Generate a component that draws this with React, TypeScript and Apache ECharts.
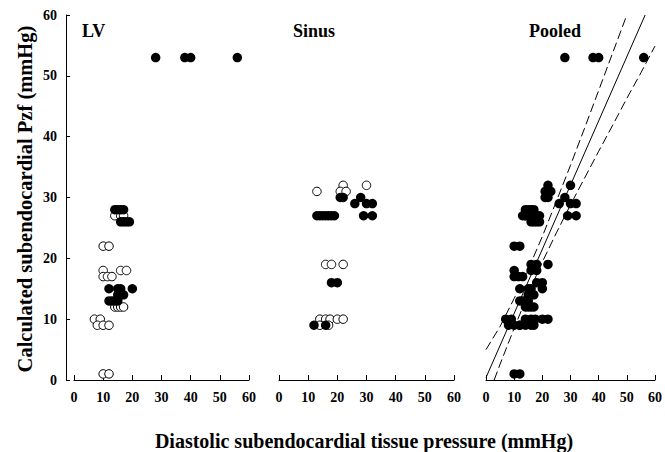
import React, { useEffect, useRef } from "react";
import * as echarts from "echarts";

// ---- Data ----
const panelTitles = ["LV", "Sinus", "Pooled"];
const xTickLabels = [0, 10, 20, 30, 40, 50, 60];
const yTickLabels = [0, 10, 20, 30, 40, 50, 60];

const lvFilled: number[][] = [
  [28, 53], [38, 53], [40, 53], [56, 53],
  [14, 28], [15, 28], [16, 28], [17, 28],
  [16, 26], [17, 26], [18, 26], [19, 26],
  [12, 15], [15, 15], [16, 15], [20, 15],
  [15, 14], [16, 14], [17, 14],
  [12, 13], [13, 13], [14, 13], [15, 13],
];
const lvOpen: number[][] = [
  [14, 27], [16, 27], [17, 27],
  [10, 22], [12, 22],
  [10, 18], [16, 18], [18, 18],
  [10, 17], [11.5, 17], [13, 17],
  [14, 12], [15, 12], [16, 12], [17, 12],
  [7, 10], [9, 10],
  [8, 9], [10, 9], [12, 9],
  [10, 1], [12, 1],
];
const sinusFilled: number[][] = [
  [21, 30], [22, 30], [28, 30],
  [26, 29], [30, 29], [32, 29],
  [13, 27], [14, 27], [15, 27], [16, 27], [17, 27], [18, 27], [19, 27], [29, 27], [32, 27],
  [18, 16], [20, 16],
  [12, 9], [16, 9],
];
const sinusOpen: number[][] = [
  [22, 32], [30, 32],
  [13, 31], [21, 31], [23, 31],
  [16, 19], [18, 19], [22, 19],
  [14, 10], [16, 10], [17.5, 10], [20, 10], [22, 10],
  [14, 9], [17, 9],
];
// points not visible in the Pooled panel
const pooledOmitted: number[][] = [[13, 31]];
// regression line and dashed confidence band
const fitLine: number[][] = [[0, 0.4], [56.5, 60]];
const upperBand: number[][] = [
  [0, 5], [5, 8.8], [10, 13.4], [15, 18.2], [20, 23.6], [25, 29.4],
  [30, 35.3], [35, 41.4], [40, 47.6], [45, 53.8], [50, 60],
];
const lowerBand: number[][] = [
  [2.9, 0], [5, 2.6], [10, 8.5], [15, 14.2], [20, 19.4], [25, 24.2],
  [30, 28.8], [35, 33.2], [40, 37.6], [45, 41.9], [50, 46.3], [55, 50.5], [60, 54.9],
];

const xTitle = "Diastolic subendocardial tissue pressure (mmHg)";
const yTitle = "Calculated subendocardial Pzf (mmHg)";

const FONT = "'Liberation Serif', 'Times New Roman', 'DejaVu Serif', serif";

export default function App() {
  const ref = useRef<HTMLDivElement>(null);

  useEffect(() => {
    if (!ref.current) return;
    const chart = echarts.init(ref.current, null, { renderer: "svg" });

    const gridLefts = [74, 279, 486];
    const grids = gridLefts.map((l) => ({ left: l, width: 175, top: 15, height: 365 }));

    const xAxes = grids.map((_, i) => ({
      type: "value",
      gridIndex: i,
      min: xTickLabels[0],
      max: xTickLabels[xTickLabels.length - 1],
      interval: 10,
      axisLine: { show: true, onZero: false, lineStyle: { color: "#000", width: 1 } },
      axisTick: { show: true, inside: true, length: 5, lineStyle: { color: "#000" } },
      axisLabel: {
        color: "#000",
        fontFamily: FONT,
        fontWeight: "bold",
        fontSize: 14,
        margin: 10,
      },
      splitLine: { show: false },
    }));

    const yAxes = grids.map((_, i) => ({
      type: "value",
      gridIndex: i,
      show: i === 0,
      offset: 8,
      min: yTickLabels[0],
      max: yTickLabels[yTickLabels.length - 1],
      interval: 10,
      axisLine: { show: true, onZero: false, lineStyle: { color: "#000", width: 1 } },
      axisTick: { show: true, inside: true, length: 4, lineStyle: { color: "#000" } },
      axisLabel: {
        color: "#000",
        fontFamily: FONT,
        fontWeight: "bold",
        fontSize: 14,
        margin: 9,
      },
      splitLine: { show: false },
    }));

    const filledStyle = { color: "#000", opacity: 1 };
    const openStyle = { color: "#fff", borderColor: "#000", borderWidth: 1, opacity: 1 };

    const scatter = (data: number[][], idx: number, open: boolean) => ({
      type: "scatter",
      xAxisIndex: idx,
      yAxisIndex: idx,
      data,
      symbol: "circle",
      symbolSize: open ? 8.5 : 9.5,
      itemStyle: open ? openStyle : filledStyle,
      silent: true,
      z: open ? 3 : 4,
    });

    const line = (data: number[][], dashed: boolean) => ({
      type: "line",
      xAxisIndex: 2,
      yAxisIndex: 2,
      data,
      symbol: "none",
      showSymbol: false,
      silent: true,
      lineStyle: { color: "#000", width: 1, type: dashed ? [9, 4] : "solid" },
      z: 2,
    });

    const pooled = [...lvFilled, ...lvOpen, ...sinusFilled, ...sinusOpen].filter(
      (p) => !pooledOmitted.some((q) => q[0] === p[0] && q[1] === p[1])
    );

    const titlePos = [82, 293, 529];

    chart.setOption({
      animation: false,
      backgroundColor: "#fff",
      grid: grids,
      xAxis: xAxes,
      yAxis: yAxes,
      series: [
        scatter(lvOpen, 0, true),
        scatter(lvFilled, 0, false),
        scatter(sinusOpen, 1, true),
        scatter(sinusFilled, 1, false),
        line(fitLine, false),
        line(upperBand, true),
        line(lowerBand, true),
        scatter(pooled, 2, false),
      ],
      graphic: [
        ...panelTitles.map((t, i) => ({
          type: "text",
          x: titlePos[i],
          y: 30.5,
          style: {
            text: t,
            fontFamily: FONT,
            fontWeight: "bold",
            fontSize: 18,
            fill: "#000",
            textAlign: "left",
            textVerticalAlign: "middle",
          },
        })),
        {
          type: "text",
          x: 364,
          y: 441,
          style: {
            text: xTitle,
            fontFamily: FONT,
            fontWeight: "bold",
            fontSize: 20,
            fill: "#000",
            textAlign: "center",
            textVerticalAlign: "middle",
          },
        },
        {
          type: "text",
          x: 25,
          y: 199,
          rotation: Math.PI / 2,
          style: {
            text: yTitle,
            fontFamily: FONT,
            fontWeight: "bold",
            fontSize: 20.5,
            fill: "#000",
            textAlign: "center",
            textVerticalAlign: "middle",
          },
        },
      ],
    });

    return () => chart.dispose();
  }, []);

  return (
    <div
      ref={ref}
      style={{ position: "absolute", left: 0, top: 0, width: 665, height: 452 }}
    />
  );
}
